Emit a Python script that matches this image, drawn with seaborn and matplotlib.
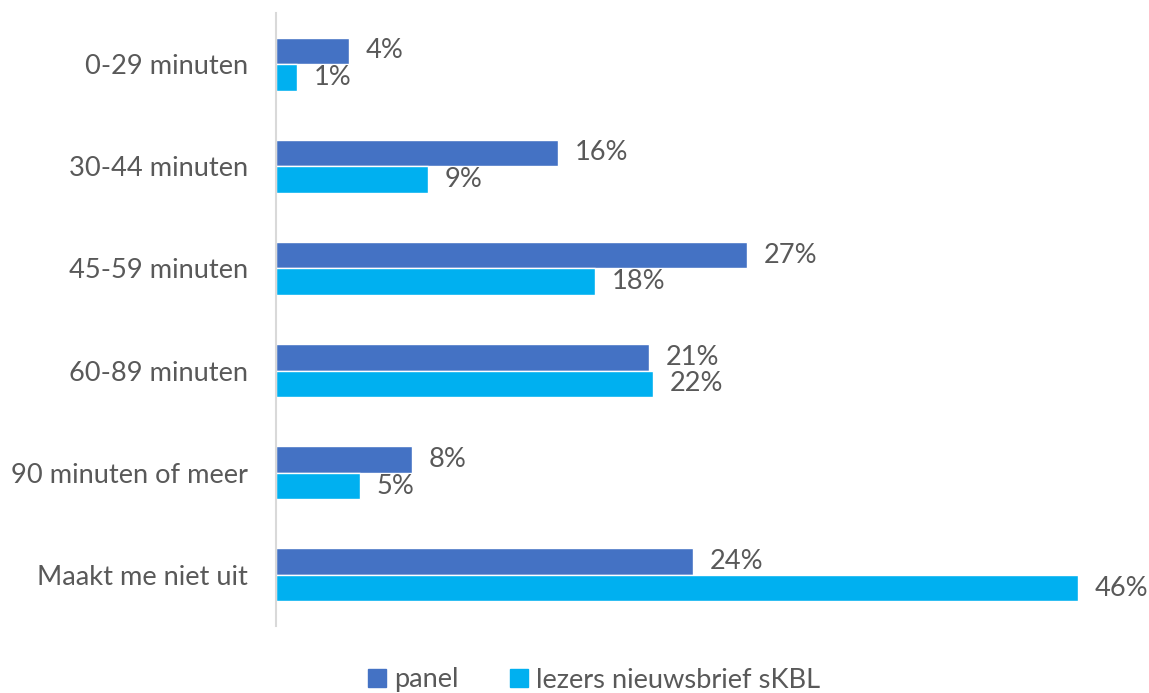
import matplotlib
matplotlib.use("Agg")
import matplotlib.pyplot as plt
import seaborn as sns
import pandas as pd
from matplotlib.patches import Patch

categories = ["0-29 minuten", "30-44 minuten", "45-59 minuten", "60-89 minuten",
              "90 minuten of meer", "Maakt me niet uit"]
panel = [4.2, 16.2, 27.0, 21.4, 7.8, 23.9]
lezers = [1.2, 8.7, 18.3, 21.6, 4.8, 46.0]
series_names = ["panel", "lezers nieuwsbrief sKBL"]
colors = ["#4472C4", "#00B0F0"]

sns.set_theme(style="white")
plt.rcParams['font.family'] = ['Lato', 'DejaVu Sans']
TXT = "#595959"
FS = 19.6

df = pd.DataFrame({
    "cat": categories * 2,
    "val": panel + lezers,
    "series": [series_names[0]] * len(categories) + [series_names[1]] * len(categories),
})

fig = plt.figure(figsize=(11.49, 6.93), dpi=100)
ax = fig.add_axes([276 / 1149, 1 - 626 / 693, (1078 - 276) / 1149, (626 - 13) / 693])
sns.barplot(data=df, y="cat", x="val", hue="series", orient="h",
            palette=colors, width=0.52, gap=0, ax=ax, saturation=1, legend=False)
ax.set_xlim(0, 46)
ax.set_ylim(5.5, -0.5)
ax.set_xlabel("")
ax.set_ylabel("")
ax.set_xticks([])
ax.tick_params(axis="y", length=0, pad=20, labelsize=FS, labelcolor=TXT)
for s in ["top", "right", "bottom"]:
    ax.spines[s].set_visible(False)
ax.spines["left"].set_color("#D9D9D9")
ax.spines["left"].set_linewidth(1.5)

for cont in ax.containers:
    ax.bar_label(cont, labels=[f"{v.get_width():.0f}%" for v in cont], padding=12,
                 fontsize=FS, color=TXT, clip_on=False)

handles = [Patch(color=c, label=n) for c, n in zip(colors, series_names)]
fig.legend(handles=handles, loc="center", bbox_to_anchor=(594 / 1149, 1 - 680 / 693),
           ncol=2, frameon=False, fontsize=FS, labelcolor=TXT, handlelength=0.65,
           handleheight=0.65, handletextpad=0.3, columnspacing=1.9)

fig.savefig("out.png", dpi=100, facecolor="white")
